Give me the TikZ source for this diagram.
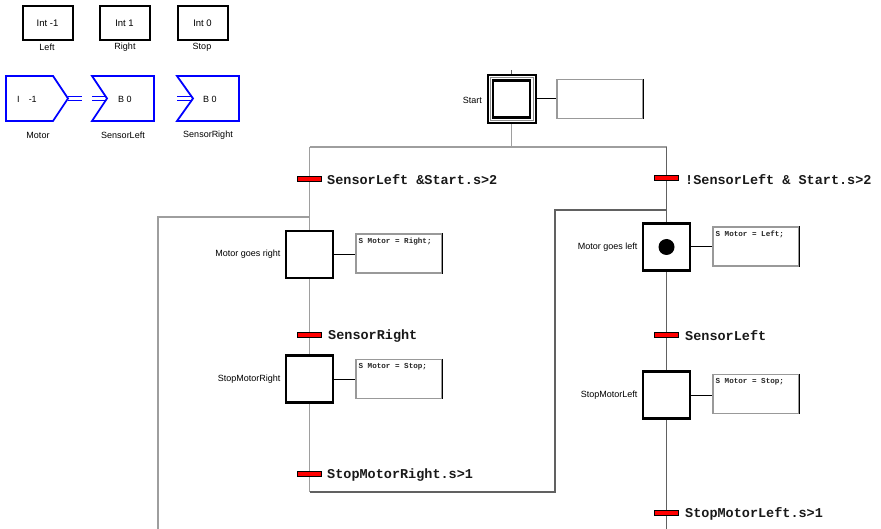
\documentclass[tikz,border=0pt]{standalone}
\usepackage{fontspec}
\setmainfont{Liberation Sans}
\newfontfamily\monof{Liberation Mono}
\usetikzlibrary{backgrounds}

\begin{document}
\begin{tikzpicture}[x=1pt,y=-1pt,
  varbox/.style={draw=black, line width=2pt, minimum width=50pt, minimum height=34pt, inner sep=0pt, font=\fontsize{9.5}{10}\selectfont},
  small/.style={font=\fontsize{9}{10}\selectfont, inner sep=0pt},
  stepbox/.style={draw=black, line width=2.2pt, fill=white, minimum size=47pt, inner sep=0pt},
  actbox/.style={draw=black!40, line width=1.2pt, fill=white, minimum width=86pt, minimum height=39pt, inner sep=0pt},
  acttext/.style={font=\monof\bfseries\fontsize{7.6}{8}\selectfont, anchor=north west, inner sep=0pt, text=black!85},
  trbar/.style={draw=black, fill=red, line width=1pt, minimum width=24pt, minimum height=5pt, inner sep=0pt},
  trlabel/.style={font=\monof\bfseries\fontsize{13.5}{15}\selectfont, anchor=west, inner sep=0pt, text=black!90},
  steplabel/.style={font=\fontsize{9}{10}\selectfont, anchor=east, inner sep=0pt},
  flow/.style={draw=black!38, line width=1.3pt},
  flowdark/.style={draw=black!62, line width=1.3pt},
  link/.style={draw=black, line width=1pt},
  blueshape/.style={draw=blue, line width=1.8pt, line join=miter},
  bluelink/.style={draw=blue, line width=1.8pt}
]
\useasboundingbox (0,0) rectangle (881,529);

% ---------- variable declarations ----------
\node[varbox] (vleft)  at (47.5,23.5)  {Int -1};
\node[varbox] (vright) at (124.5,23.5) {Int 1};
\node[varbox] (vstop)  at (202.5,23.5) {Int 0};
\node[small] (lleft)  at (47,47)  {Left};
\node[small] (lright) at (125,47) {Right};
\node[small] (lstop)  at (202,47) {Stop};

% ---------- inputs and outputs ----------
\draw[blueshape] (6,76) -- (53,76) -- (68,98.5) -- (53,121) -- (6,121) -- cycle;
\draw[bluelink] (68,96.5) -- (82,96.5) (68,100.5) -- (82,100.5);
\draw[blueshape] (92,76) -- (154,76) -- (154,121) -- (92,121) -- (107,98.5) -- cycle;
\draw[bluelink] (92,96.5) -- (105,96.5) (92,100.5) -- (105,100.5);
\draw[blueshape] (177,76) -- (239,76) -- (239,121) -- (177,121) -- (193,98.5) -- cycle;
\draw[bluelink] (177,96.5) -- (191,96.5) (177,100.5) -- (191,100.5);
\node[small] (mval)  at (27,99)  {I\hspace{9pt}-1};
\node[small] (slval) at (125,99) {B 0};
\node[small] (srval) at (210,99) {B 0};
\node[small] (lmotor) at (38,135)  {Motor};
\node[small] (lsl)    at (123,135) {SensorLeft};
\node[small] (lsr)    at (208,135) {SensorRight};

% ---------- initial step ----------
\node[stepbox, minimum size=48pt, line width=2pt] (start) at (511.5,99) {};
\node[draw=black!45, line width=0.6pt, minimum size=43pt, inner sep=0pt] (startmid) at (start.center) {};
\node[draw=black, line width=2.2pt, minimum size=37pt, inner sep=0pt] (startin) at (start.center) {};
\node[steplabel] (startl) at (482,100) {Start};
\node[actbox] (a0) at (600,99) {};
\coordinate (stub) at (511.5,70);
\coordinate (divL) at (309.5,147);
\coordinate (divR) at (666.5,147);

% ---------- left branch ----------
\node[trbar] (t1) at (309.5,179) {};
\node[trlabel] (t1l) at (327,180) {SensorLeft \&Start.s>2};
\node[stepbox] (s1) at (309.5,254.5) {};
\node[steplabel] (s1l) at (280.5,254) {Motor goes right};
\node[actbox] (a1) at (399,253.5) {};
\node[acttext] (a1t) at ([shift={(3,4)}]a1.north west) {S Motor = Right;};
\node[trbar] (t2) at (309.5,335) {};
\node[trlabel] (t2l) at (328,336) {SensorRight};
\node[stepbox] (s2) at (309.5,379) {};
\node[steplabel] (s2l) at (280.5,379) {StopMotorRight};
\node[actbox] (a2) at (399,379) {};
\node[acttext] (a2t) at ([shift={(3,4)}]a2.north west) {S Motor = Stop;};
\node[trbar] (t3) at (309.5,474) {};
\node[trlabel] (t3l) at (327,475) {StopMotorRight.s>1};

% ---------- right branch ----------
\node[trbar] (t4) at (666.5,178) {};
\node[trlabel] (t4l) at (685,180) {!SensorLeft \& Start.s>2};
\node[stepbox] (s3) at (666.5,247) {};
\node[circle, fill=black, minimum size=16pt, inner sep=0pt] (token) at (s3.center) {};
\node[steplabel] (s3l) at (637.5,247) {Motor goes left};
\node[actbox] (a3) at (756,246.5) {};
\node[acttext] (a3t) at ([shift={(3,4)}]a3.north west) {S Motor = Left;};
\node[trbar] (t5) at (666.5,335) {};
\node[trlabel] (t5l) at (685,336) {SensorLeft};
\node[stepbox] (s4) at (666.5,395) {};
\node[steplabel] (s4l) at (637.5,395) {StopMotorLeft};
\node[actbox] (a4) at (756,394) {};
\node[acttext] (a4t) at ([shift={(3,4)}]a4.north west) {S Motor = Stop;};
\node[trbar] (t6) at (666.5,513) {};
\node[trlabel] (t6l) at (685,514) {StopMotorLeft.s>1};

% darker right edge of the action boxes
\foreach \a in {a0,a1,a2,a3,a4}
  \draw[black, line width=1.2pt] (\a.north east) -- (\a.south east);

% ---------- jumps ----------
\coordinate (loopend) at (309.5,492);
\coordinate (jmpRb) at (555,492);
\coordinate (jmpRt) at (555,210);
\coordinate (mergeR) at (666.5,210);
\coordinate (jmpLb) at (158,529);
\coordinate (jmpLt) at (158,217);
\coordinate (mergeL) at (309.5,217);
\coordinate (rbot) at (666.5,529);

\begin{scope}[on background layer]
  \draw[flowdark] (stub) -- (start.north);
  \draw[flow] (start.south) -- (start.south |- divL);
  \draw[flow] (divL) -- (divR);
  \draw[flow] (divL) -- (t1) -- (s1) -- (t2) -- (s2) -- (t3) -- (loopend);
  \draw[flowdark] (loopend) -- (jmpRb) -- (jmpRt) -- (mergeR);
  \draw[flow] (jmpLb) -- (jmpLt) -- (mergeL);
  \draw[flowdark] (divR) -- (t4) -- (s3) -- (t5) -- (s4) -- (t6) -- (rbot);
  \draw[link] (start.east) -- (start.east -| a0.west);
  \draw[link] (s1.east) -- (s1.east -| a1.west);
  \draw[link] (s2.east) -- (s2.east -| a2.west);
  \draw[link] (s3.east) -- (s3.east -| a3.west);
  \draw[link] (s4.east) -- (s4.east -| a4.west);
\end{scope}
\end{tikzpicture}
\end{document}
